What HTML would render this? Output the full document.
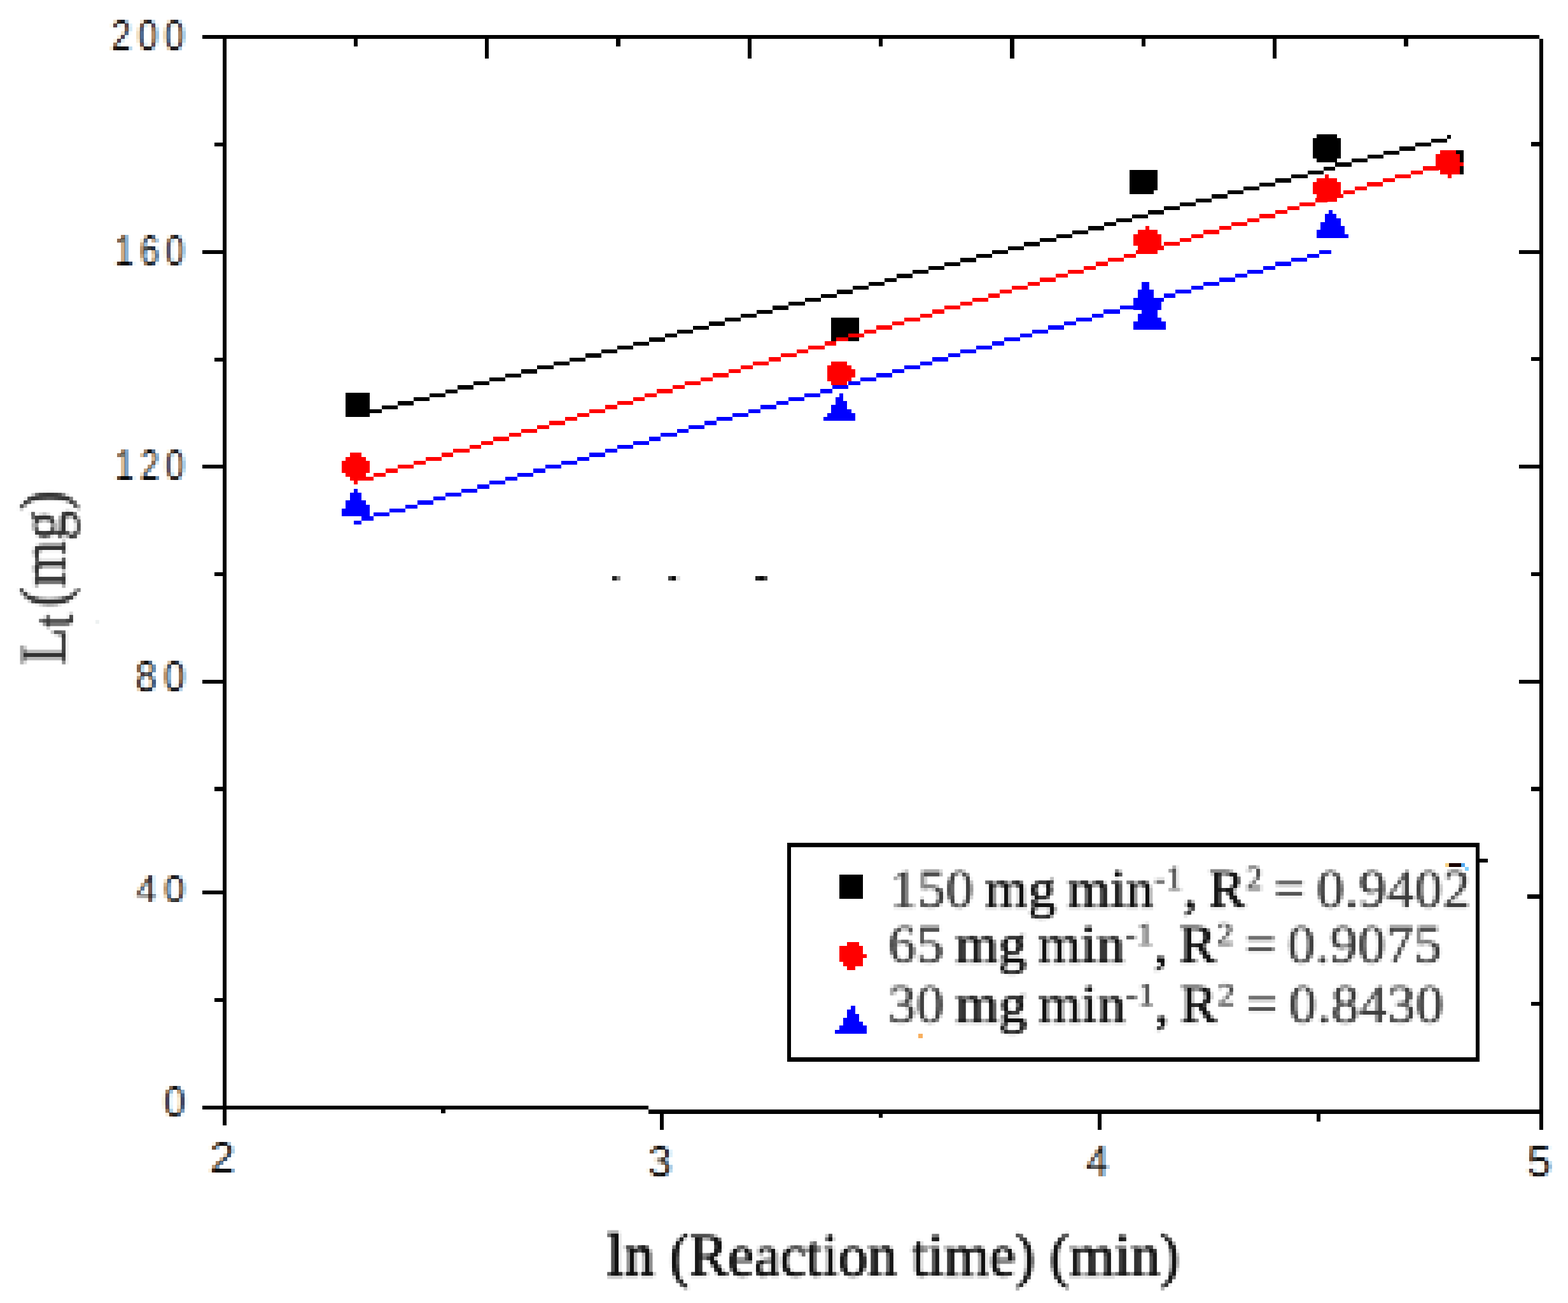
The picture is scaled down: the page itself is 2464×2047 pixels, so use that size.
<!DOCTYPE html>
<html lang="en"><head><meta charset="utf-8"><title>Lt vs ln(reaction time)</title>
<style>
html,body{margin:0;padding:0;background:#ffffff;overflow:hidden}
svg{display:block}
svg rect{shape-rendering:crispEdges}
svg text{white-space:pre}
</style></head>
<body>
<svg width="2464" height="2047" viewBox="0 0 2464 2047">
<defs>
<filter id="px0" filterUnits="userSpaceOnUse" x="166" y="19" width="132" height="72" color-interpolation-filters="sRGB"><feGaussianBlur in="SourceAlpha" stdDeviation="2.2 1.0" result="a"/><feOffset in="a" dx="0.9" result="ar"/><feOffset in="a" dx="-0.9" result="ab"/><feColorMatrix in="ar" type="matrix" values="0 0 0 -1 1  0 0 0 0 0  0 0 0 0 0  0 0 0 0 1" result="r"/><feColorMatrix in="a" type="matrix" values="0 0 0 0 0  0 0 0 -1 1  0 0 0 0 0  0 0 0 0 1" result="g"/><feColorMatrix in="ab" type="matrix" values="0 0 0 0 0  0 0 0 0 0  0 0 0 -1 1  0 0 0 0 1" result="bl"/><feComposite in="r" in2="g" operator="arithmetic" k1="0" k2="1" k3="1" k4="0" result="rg"/><feComposite in="rg" in2="bl" operator="arithmetic" k1="0" k2="1" k3="1" k4="0" result="b"/><feFlood x="168" y="21" width="2" height="2" flood-color="#000"/><feComposite width="6" height="6"/><feTile result="t"/><feComposite in="b" in2="t" operator="in"/><feMorphology operator="dilate" radius="2"/></filter>
<filter id="px1" filterUnits="userSpaceOnUse" x="172" y="357" width="126" height="72" color-interpolation-filters="sRGB"><feGaussianBlur in="SourceAlpha" stdDeviation="2.2 1.0" result="a"/><feOffset in="a" dx="0.9" result="ar"/><feOffset in="a" dx="-0.9" result="ab"/><feColorMatrix in="ar" type="matrix" values="0 0 0 -1 1  0 0 0 0 0  0 0 0 0 0  0 0 0 0 1" result="r"/><feColorMatrix in="a" type="matrix" values="0 0 0 0 0  0 0 0 -1 1  0 0 0 0 0  0 0 0 0 1" result="g"/><feColorMatrix in="ab" type="matrix" values="0 0 0 0 0  0 0 0 0 0  0 0 0 -1 1  0 0 0 0 1" result="bl"/><feComposite in="r" in2="g" operator="arithmetic" k1="0" k2="1" k3="1" k4="0" result="rg"/><feComposite in="rg" in2="bl" operator="arithmetic" k1="0" k2="1" k3="1" k4="0" result="b"/><feFlood x="174" y="359" width="2" height="2" flood-color="#000"/><feComposite width="6" height="6"/><feTile result="t"/><feComposite in="b" in2="t" operator="in"/><feMorphology operator="dilate" radius="2"/></filter>
<filter id="px2" filterUnits="userSpaceOnUse" x="172" y="694" width="126" height="72" color-interpolation-filters="sRGB"><feGaussianBlur in="SourceAlpha" stdDeviation="2.2 1.0" result="a"/><feOffset in="a" dx="0.9" result="ar"/><feOffset in="a" dx="-0.9" result="ab"/><feColorMatrix in="ar" type="matrix" values="0 0 0 -1 1  0 0 0 0 0  0 0 0 0 0  0 0 0 0 1" result="r"/><feColorMatrix in="a" type="matrix" values="0 0 0 0 0  0 0 0 -1 1  0 0 0 0 0  0 0 0 0 1" result="g"/><feColorMatrix in="ab" type="matrix" values="0 0 0 0 0  0 0 0 0 0  0 0 0 -1 1  0 0 0 0 1" result="bl"/><feComposite in="r" in2="g" operator="arithmetic" k1="0" k2="1" k3="1" k4="0" result="rg"/><feComposite in="rg" in2="bl" operator="arithmetic" k1="0" k2="1" k3="1" k4="0" result="b"/><feFlood x="174" y="696" width="2" height="2" flood-color="#000"/><feComposite width="6" height="6"/><feTile result="t"/><feComposite in="b" in2="t" operator="in"/><feMorphology operator="dilate" radius="2"/></filter>
<filter id="px3" filterUnits="userSpaceOnUse" x="203" y="1026" width="96" height="72" color-interpolation-filters="sRGB"><feGaussianBlur in="SourceAlpha" stdDeviation="2.2 1.0" result="a"/><feOffset in="a" dx="0.9" result="ar"/><feOffset in="a" dx="-0.9" result="ab"/><feColorMatrix in="ar" type="matrix" values="0 0 0 -1 1  0 0 0 0 0  0 0 0 0 0  0 0 0 0 1" result="r"/><feColorMatrix in="a" type="matrix" values="0 0 0 0 0  0 0 0 -1 1  0 0 0 0 0  0 0 0 0 1" result="g"/><feColorMatrix in="ab" type="matrix" values="0 0 0 0 0  0 0 0 0 0  0 0 0 -1 1  0 0 0 0 1" result="bl"/><feComposite in="r" in2="g" operator="arithmetic" k1="0" k2="1" k3="1" k4="0" result="rg"/><feComposite in="rg" in2="bl" operator="arithmetic" k1="0" k2="1" k3="1" k4="0" result="b"/><feFlood x="205" y="1028" width="2" height="2" flood-color="#000"/><feComposite width="6" height="6"/><feTile result="t"/><feComposite in="b" in2="t" operator="in"/><feMorphology operator="dilate" radius="2"/></filter>
<filter id="px4" filterUnits="userSpaceOnUse" x="203" y="1363" width="96" height="66" color-interpolation-filters="sRGB"><feGaussianBlur in="SourceAlpha" stdDeviation="2.2 1.0" result="a"/><feOffset in="a" dx="0.9" result="ar"/><feOffset in="a" dx="-0.9" result="ab"/><feColorMatrix in="ar" type="matrix" values="0 0 0 -1 1  0 0 0 0 0  0 0 0 0 0  0 0 0 0 1" result="r"/><feColorMatrix in="a" type="matrix" values="0 0 0 0 0  0 0 0 -1 1  0 0 0 0 0  0 0 0 0 1" result="g"/><feColorMatrix in="ab" type="matrix" values="0 0 0 0 0  0 0 0 0 0  0 0 0 -1 1  0 0 0 0 1" result="bl"/><feComposite in="r" in2="g" operator="arithmetic" k1="0" k2="1" k3="1" k4="0" result="rg"/><feComposite in="rg" in2="bl" operator="arithmetic" k1="0" k2="1" k3="1" k4="0" result="b"/><feFlood x="205" y="1365" width="2" height="2" flood-color="#000"/><feComposite width="6" height="6"/><feTile result="t"/><feComposite in="b" in2="t" operator="in"/><feMorphology operator="dilate" radius="2"/></filter>
<filter id="px5" filterUnits="userSpaceOnUse" x="248" y="1694" width="54" height="72" color-interpolation-filters="sRGB"><feGaussianBlur in="SourceAlpha" stdDeviation="2.2 1.0" result="a"/><feOffset in="a" dx="0.9" result="ar"/><feOffset in="a" dx="-0.9" result="ab"/><feColorMatrix in="ar" type="matrix" values="0 0 0 -1 1  0 0 0 0 0  0 0 0 0 0  0 0 0 0 1" result="r"/><feColorMatrix in="a" type="matrix" values="0 0 0 0 0  0 0 0 -1 1  0 0 0 0 0  0 0 0 0 1" result="g"/><feColorMatrix in="ab" type="matrix" values="0 0 0 0 0  0 0 0 0 0  0 0 0 -1 1  0 0 0 0 1" result="bl"/><feComposite in="r" in2="g" operator="arithmetic" k1="0" k2="1" k3="1" k4="0" result="rg"/><feComposite in="rg" in2="bl" operator="arithmetic" k1="0" k2="1" k3="1" k4="0" result="b"/><feFlood x="250" y="1696" width="2" height="2" flood-color="#000"/><feComposite width="6" height="6"/><feTile result="t"/><feComposite in="b" in2="t" operator="in"/><feMorphology operator="dilate" radius="2"/></filter>
<filter id="px6" filterUnits="userSpaceOnUse" x="321" y="1782" width="54" height="72" color-interpolation-filters="sRGB"><feGaussianBlur in="SourceAlpha" stdDeviation="2.2 1.0" result="a"/><feOffset in="a" dx="0.9" result="ar"/><feOffset in="a" dx="-0.9" result="ab"/><feColorMatrix in="ar" type="matrix" values="0 0 0 -1 1  0 0 0 0 0  0 0 0 0 0  0 0 0 0 1" result="r"/><feColorMatrix in="a" type="matrix" values="0 0 0 0 0  0 0 0 -1 1  0 0 0 0 0  0 0 0 0 1" result="g"/><feColorMatrix in="ab" type="matrix" values="0 0 0 0 0  0 0 0 0 0  0 0 0 -1 1  0 0 0 0 1" result="bl"/><feComposite in="r" in2="g" operator="arithmetic" k1="0" k2="1" k3="1" k4="0" result="rg"/><feComposite in="rg" in2="bl" operator="arithmetic" k1="0" k2="1" k3="1" k4="0" result="b"/><feFlood x="323" y="1784" width="2" height="2" flood-color="#000"/><feComposite width="6" height="6"/><feTile result="t"/><feComposite in="b" in2="t" operator="in"/><feMorphology operator="dilate" radius="2"/></filter>
<filter id="px7" filterUnits="userSpaceOnUse" x="1009" y="1788" width="54" height="72" color-interpolation-filters="sRGB"><feGaussianBlur in="SourceAlpha" stdDeviation="2.2 1.0" result="a"/><feOffset in="a" dx="0.9" result="ar"/><feOffset in="a" dx="-0.9" result="ab"/><feColorMatrix in="ar" type="matrix" values="0 0 0 -1 1  0 0 0 0 0  0 0 0 0 0  0 0 0 0 1" result="r"/><feColorMatrix in="a" type="matrix" values="0 0 0 0 0  0 0 0 -1 1  0 0 0 0 0  0 0 0 0 1" result="g"/><feColorMatrix in="ab" type="matrix" values="0 0 0 0 0  0 0 0 0 0  0 0 0 -1 1  0 0 0 0 1" result="bl"/><feComposite in="r" in2="g" operator="arithmetic" k1="0" k2="1" k3="1" k4="0" result="rg"/><feComposite in="rg" in2="bl" operator="arithmetic" k1="0" k2="1" k3="1" k4="0" result="b"/><feFlood x="1011" y="1790" width="2" height="2" flood-color="#000"/><feComposite width="6" height="6"/><feTile result="t"/><feComposite in="b" in2="t" operator="in"/><feMorphology operator="dilate" radius="2"/></filter>
<filter id="px8" filterUnits="userSpaceOnUse" x="1696" y="1788" width="54" height="72" color-interpolation-filters="sRGB"><feGaussianBlur in="SourceAlpha" stdDeviation="2.2 1.0" result="a"/><feOffset in="a" dx="0.9" result="ar"/><feOffset in="a" dx="-0.9" result="ab"/><feColorMatrix in="ar" type="matrix" values="0 0 0 -1 1  0 0 0 0 0  0 0 0 0 0  0 0 0 0 1" result="r"/><feColorMatrix in="a" type="matrix" values="0 0 0 0 0  0 0 0 -1 1  0 0 0 0 0  0 0 0 0 1" result="g"/><feColorMatrix in="ab" type="matrix" values="0 0 0 0 0  0 0 0 0 0  0 0 0 -1 1  0 0 0 0 1" result="bl"/><feComposite in="r" in2="g" operator="arithmetic" k1="0" k2="1" k3="1" k4="0" result="rg"/><feComposite in="rg" in2="bl" operator="arithmetic" k1="0" k2="1" k3="1" k4="0" result="b"/><feFlood x="1698" y="1790" width="2" height="2" flood-color="#000"/><feComposite width="6" height="6"/><feTile result="t"/><feComposite in="b" in2="t" operator="in"/><feMorphology operator="dilate" radius="2"/></filter>
<filter id="px9" filterUnits="userSpaceOnUse" x="2391" y="1788" width="54" height="72" color-interpolation-filters="sRGB"><feGaussianBlur in="SourceAlpha" stdDeviation="2.2 1.0" result="a"/><feOffset in="a" dx="0.9" result="ar"/><feOffset in="a" dx="-0.9" result="ab"/><feColorMatrix in="ar" type="matrix" values="0 0 0 -1 1  0 0 0 0 0  0 0 0 0 0  0 0 0 0 1" result="r"/><feColorMatrix in="a" type="matrix" values="0 0 0 0 0  0 0 0 -1 1  0 0 0 0 0  0 0 0 0 1" result="g"/><feColorMatrix in="ab" type="matrix" values="0 0 0 0 0  0 0 0 0 0  0 0 0 -1 1  0 0 0 0 1" result="bl"/><feComposite in="r" in2="g" operator="arithmetic" k1="0" k2="1" k3="1" k4="0" result="rg"/><feComposite in="rg" in2="bl" operator="arithmetic" k1="0" k2="1" k3="1" k4="0" result="b"/><feFlood x="2393" y="1790" width="2" height="2" flood-color="#000"/><feComposite width="6" height="6"/><feTile result="t"/><feComposite in="b" in2="t" operator="in"/><feMorphology operator="dilate" radius="2"/></filter>
<filter id="px10" filterUnits="userSpaceOnUse" x="942" y="1920" width="924" height="120" color-interpolation-filters="sRGB"><feGaussianBlur in="SourceGraphic" stdDeviation="1.8" result="b"/><feFlood x="944" y="1922" width="2" height="2" flood-color="#000"/><feComposite width="6" height="6"/><feTile result="t"/><feComposite in="b" in2="t" operator="in"/><feMorphology operator="dilate" radius="2"/></filter>
<filter id="px11" filterUnits="userSpaceOnUse" x="1392" y="1347" width="930" height="108" color-interpolation-filters="sRGB"><feGaussianBlur in="SourceGraphic" stdDeviation="1.8" result="b"/><feFlood x="1394" y="1349" width="2" height="2" flood-color="#000"/><feComposite width="6" height="6"/><feTile result="t"/><feComposite in="b" in2="t" operator="in"/><feMorphology operator="dilate" radius="2"/></filter>
<filter id="px12" filterUnits="userSpaceOnUse" x="1386" y="1434" width="888" height="108" color-interpolation-filters="sRGB"><feGaussianBlur in="SourceGraphic" stdDeviation="1.8" result="b"/><feFlood x="1388" y="1436" width="2" height="2" flood-color="#000"/><feComposite width="6" height="6"/><feTile result="t"/><feComposite in="b" in2="t" operator="in"/><feMorphology operator="dilate" radius="2"/></filter>
<filter id="px13" filterUnits="userSpaceOnUse" x="1386" y="1528" width="894" height="114" color-interpolation-filters="sRGB"><feGaussianBlur in="SourceGraphic" stdDeviation="1.8" result="b"/><feFlood x="1388" y="1530" width="2" height="2" flood-color="#000"/><feComposite width="6" height="6"/><feTile result="t"/><feComposite in="b" in2="t" operator="in"/><feMorphology operator="dilate" radius="2"/></filter>
<filter id="px14" filterUnits="userSpaceOnUse" x="19" y="762" width="120" height="294" color-interpolation-filters="sRGB"><feGaussianBlur in="SourceGraphic" stdDeviation="1.8" result="b"/><feFlood x="21" y="764" width="2" height="2" flood-color="#000"/><feComposite width="6" height="6"/><feTile result="t"/><feComposite in="b" in2="t" operator="in"/><feMorphology operator="dilate" radius="2"/></filter>
</defs>
<rect x="0" y="0" width="2464" height="2047" fill="#ffffff"/>
<rect x="543.40" y="617.40" width="37.70" height="37.70" fill="#000"/>
<rect x="1306.30" y="498.90" width="43.70" height="37.40" fill="#000"/>
<rect x="1775.10" y="267.40" width="43.80" height="31.40" fill="#000"/>
<rect x="1775.10" y="298.80" width="37.50" height="6.30" fill="#000"/>
<rect x="2262.60" y="236.20" width="37.40" height="37.60" fill="#000"/>
<rect x="2069.17" y="211.10" width="31.35" height="6.25" fill="#000"/>
<rect x="2062.90" y="217.35" width="43.89" height="6.25" fill="#000"/>
<rect x="2062.90" y="223.60" width="43.89" height="6.25" fill="#000"/>
<rect x="2062.90" y="229.85" width="43.89" height="6.25" fill="#000"/>
<rect x="2062.90" y="236.10" width="43.89" height="6.25" fill="#000"/>
<rect x="2062.90" y="242.35" width="43.89" height="6.25" fill="#000"/>
<rect x="2069.17" y="248.60" width="31.35" height="6.25" fill="#000"/>
<rect x="581.10" y="642.90" width="18.81" height="6.25" fill="#000"/>
<rect x="599.91" y="636.65" width="25.08" height="6.25" fill="#000"/>
<rect x="624.99" y="630.40" width="25.08" height="6.25" fill="#000"/>
<rect x="650.07" y="624.15" width="25.08" height="6.25" fill="#000"/>
<rect x="675.15" y="617.90" width="25.08" height="6.25" fill="#000"/>
<rect x="700.23" y="611.65" width="18.81" height="6.25" fill="#000"/>
<rect x="719.04" y="605.40" width="25.08" height="6.25" fill="#000"/>
<rect x="744.12" y="599.15" width="25.08" height="6.25" fill="#000"/>
<rect x="769.20" y="592.90" width="25.08" height="6.25" fill="#000"/>
<rect x="794.28" y="586.65" width="25.08" height="6.25" fill="#000"/>
<rect x="819.36" y="580.40" width="25.08" height="6.25" fill="#000"/>
<rect x="844.44" y="574.15" width="25.08" height="6.25" fill="#000"/>
<rect x="869.52" y="567.90" width="25.08" height="6.25" fill="#000"/>
<rect x="894.60" y="561.65" width="25.08" height="6.25" fill="#000"/>
<rect x="919.68" y="555.40" width="25.08" height="6.25" fill="#000"/>
<rect x="944.76" y="549.15" width="25.08" height="6.25" fill="#000"/>
<rect x="969.84" y="542.90" width="25.08" height="6.25" fill="#000"/>
<rect x="994.92" y="536.65" width="25.08" height="6.25" fill="#000"/>
<rect x="1020.00" y="530.40" width="25.08" height="6.25" fill="#000"/>
<rect x="1045.08" y="524.15" width="18.81" height="6.25" fill="#000"/>
<rect x="1063.89" y="517.90" width="25.08" height="6.25" fill="#000"/>
<rect x="1088.97" y="511.65" width="25.08" height="6.25" fill="#000"/>
<rect x="1114.05" y="505.40" width="25.08" height="6.25" fill="#000"/>
<rect x="1139.13" y="499.15" width="25.08" height="6.25" fill="#000"/>
<rect x="1164.21" y="492.90" width="25.08" height="6.25" fill="#000"/>
<rect x="1189.29" y="486.65" width="25.08" height="6.25" fill="#000"/>
<rect x="1214.37" y="480.40" width="25.08" height="6.25" fill="#000"/>
<rect x="1239.45" y="474.15" width="25.08" height="6.25" fill="#000"/>
<rect x="1264.53" y="467.90" width="25.08" height="6.25" fill="#000"/>
<rect x="1289.61" y="461.65" width="25.08" height="6.25" fill="#000"/>
<rect x="1314.69" y="455.40" width="25.08" height="6.25" fill="#000"/>
<rect x="1339.77" y="449.15" width="25.08" height="6.25" fill="#000"/>
<rect x="1364.85" y="442.90" width="25.08" height="6.25" fill="#000"/>
<rect x="1389.93" y="436.65" width="18.81" height="6.25" fill="#000"/>
<rect x="1408.74" y="430.40" width="25.08" height="6.25" fill="#000"/>
<rect x="1433.82" y="424.15" width="25.08" height="6.25" fill="#000"/>
<rect x="1458.90" y="417.90" width="25.08" height="6.25" fill="#000"/>
<rect x="1483.98" y="411.65" width="25.08" height="6.25" fill="#000"/>
<rect x="1509.06" y="405.40" width="25.08" height="6.25" fill="#000"/>
<rect x="1534.14" y="399.15" width="25.08" height="6.25" fill="#000"/>
<rect x="1559.22" y="392.90" width="25.08" height="6.25" fill="#000"/>
<rect x="1584.30" y="386.65" width="25.08" height="6.25" fill="#000"/>
<rect x="1609.38" y="380.40" width="25.08" height="6.25" fill="#000"/>
<rect x="1634.46" y="374.15" width="25.08" height="6.25" fill="#000"/>
<rect x="1659.54" y="367.90" width="25.08" height="6.25" fill="#000"/>
<rect x="1684.62" y="361.65" width="25.08" height="6.25" fill="#000"/>
<rect x="1709.70" y="355.40" width="25.08" height="6.25" fill="#000"/>
<rect x="1734.78" y="349.15" width="18.81" height="6.25" fill="#000"/>
<rect x="1753.59" y="342.90" width="25.08" height="6.25" fill="#000"/>
<rect x="1778.67" y="336.65" width="25.08" height="6.25" fill="#000"/>
<rect x="1803.75" y="330.40" width="25.08" height="6.25" fill="#000"/>
<rect x="1828.83" y="324.15" width="25.08" height="6.25" fill="#000"/>
<rect x="1853.91" y="317.90" width="25.08" height="6.25" fill="#000"/>
<rect x="1878.99" y="311.65" width="25.08" height="6.25" fill="#000"/>
<rect x="1904.07" y="305.40" width="25.08" height="6.25" fill="#000"/>
<rect x="1929.15" y="299.15" width="25.08" height="6.25" fill="#000"/>
<rect x="1954.23" y="292.90" width="25.08" height="6.25" fill="#000"/>
<rect x="1979.31" y="286.65" width="25.08" height="6.25" fill="#000"/>
<rect x="2004.39" y="280.40" width="25.08" height="6.25" fill="#000"/>
<rect x="2029.47" y="274.15" width="25.08" height="6.25" fill="#000"/>
<rect x="2054.55" y="267.90" width="25.08" height="6.25" fill="#000"/>
<rect x="2079.63" y="261.65" width="18.81" height="6.25" fill="#000"/>
<rect x="2098.44" y="255.40" width="25.08" height="6.25" fill="#000"/>
<rect x="2123.52" y="249.15" width="25.08" height="6.25" fill="#000"/>
<rect x="2148.60" y="242.90" width="25.08" height="6.25" fill="#000"/>
<rect x="2173.68" y="236.65" width="25.08" height="6.25" fill="#000"/>
<rect x="2198.76" y="230.40" width="25.08" height="6.25" fill="#000"/>
<rect x="2223.84" y="224.15" width="25.08" height="6.25" fill="#000"/>
<rect x="2248.92" y="217.90" width="25.08" height="6.25" fill="#000"/>
<rect x="2274.00" y="211.65" width="6.27" height="6.25" fill="#000"/>
<rect x="555.70" y="755.15" width="6.27" height="6.25" fill="#ff0000"/>
<rect x="561.97" y="748.90" width="25.08" height="6.25" fill="#ff0000"/>
<rect x="587.05" y="742.65" width="18.81" height="6.25" fill="#ff0000"/>
<rect x="605.86" y="736.40" width="18.81" height="6.25" fill="#ff0000"/>
<rect x="624.67" y="730.15" width="25.08" height="6.25" fill="#ff0000"/>
<rect x="649.75" y="723.90" width="18.81" height="6.25" fill="#ff0000"/>
<rect x="668.56" y="717.65" width="25.08" height="6.25" fill="#ff0000"/>
<rect x="693.64" y="711.40" width="18.81" height="6.25" fill="#ff0000"/>
<rect x="712.45" y="705.15" width="25.08" height="6.25" fill="#ff0000"/>
<rect x="737.53" y="698.90" width="18.81" height="6.25" fill="#ff0000"/>
<rect x="756.34" y="692.65" width="18.81" height="6.25" fill="#ff0000"/>
<rect x="775.15" y="686.40" width="25.08" height="6.25" fill="#ff0000"/>
<rect x="800.23" y="680.15" width="18.81" height="6.25" fill="#ff0000"/>
<rect x="819.04" y="673.90" width="25.08" height="6.25" fill="#ff0000"/>
<rect x="844.12" y="667.65" width="18.81" height="6.25" fill="#ff0000"/>
<rect x="862.93" y="661.40" width="25.08" height="6.25" fill="#ff0000"/>
<rect x="888.01" y="655.15" width="18.81" height="6.25" fill="#ff0000"/>
<rect x="906.82" y="648.90" width="18.81" height="6.25" fill="#ff0000"/>
<rect x="925.63" y="642.65" width="25.08" height="6.25" fill="#ff0000"/>
<rect x="950.71" y="636.40" width="18.81" height="6.25" fill="#ff0000"/>
<rect x="969.52" y="630.15" width="25.08" height="6.25" fill="#ff0000"/>
<rect x="994.60" y="623.90" width="18.81" height="6.25" fill="#ff0000"/>
<rect x="1013.41" y="617.65" width="18.81" height="6.25" fill="#ff0000"/>
<rect x="1032.22" y="611.40" width="25.08" height="6.25" fill="#ff0000"/>
<rect x="1057.30" y="605.15" width="18.81" height="6.25" fill="#ff0000"/>
<rect x="1076.11" y="598.90" width="25.08" height="6.25" fill="#ff0000"/>
<rect x="1101.19" y="592.65" width="18.81" height="6.25" fill="#ff0000"/>
<rect x="1120.00" y="586.40" width="25.08" height="6.25" fill="#ff0000"/>
<rect x="1145.08" y="580.15" width="18.81" height="6.25" fill="#ff0000"/>
<rect x="1163.89" y="573.90" width="18.81" height="6.25" fill="#ff0000"/>
<rect x="1182.70" y="567.65" width="25.08" height="6.25" fill="#ff0000"/>
<rect x="1207.78" y="561.40" width="18.81" height="6.25" fill="#ff0000"/>
<rect x="1226.59" y="555.15" width="25.08" height="6.25" fill="#ff0000"/>
<rect x="1251.67" y="548.90" width="18.81" height="6.25" fill="#ff0000"/>
<rect x="1270.48" y="542.65" width="25.08" height="6.25" fill="#ff0000"/>
<rect x="1295.56" y="536.40" width="18.81" height="6.25" fill="#ff0000"/>
<rect x="1314.37" y="530.15" width="18.81" height="6.25" fill="#ff0000"/>
<rect x="1333.18" y="523.90" width="25.08" height="6.25" fill="#ff0000"/>
<rect x="1358.26" y="517.65" width="18.81" height="6.25" fill="#ff0000"/>
<rect x="1377.07" y="511.40" width="25.08" height="6.25" fill="#ff0000"/>
<rect x="1402.15" y="505.15" width="18.81" height="6.25" fill="#ff0000"/>
<rect x="1420.96" y="498.90" width="25.08" height="6.25" fill="#ff0000"/>
<rect x="1446.04" y="492.65" width="18.81" height="6.25" fill="#ff0000"/>
<rect x="1464.85" y="486.40" width="18.81" height="6.25" fill="#ff0000"/>
<rect x="1483.66" y="480.15" width="25.08" height="6.25" fill="#ff0000"/>
<rect x="1508.74" y="473.90" width="18.81" height="6.25" fill="#ff0000"/>
<rect x="1527.55" y="467.65" width="25.08" height="6.25" fill="#ff0000"/>
<rect x="1552.63" y="461.40" width="18.81" height="6.25" fill="#ff0000"/>
<rect x="1571.44" y="455.15" width="18.81" height="6.25" fill="#ff0000"/>
<rect x="1590.25" y="448.90" width="25.08" height="6.25" fill="#ff0000"/>
<rect x="1615.33" y="442.65" width="18.81" height="6.25" fill="#ff0000"/>
<rect x="1634.14" y="436.40" width="25.08" height="6.25" fill="#ff0000"/>
<rect x="1659.22" y="430.15" width="18.81" height="6.25" fill="#ff0000"/>
<rect x="1678.03" y="423.90" width="25.08" height="6.25" fill="#ff0000"/>
<rect x="1703.11" y="417.65" width="18.81" height="6.25" fill="#ff0000"/>
<rect x="1721.92" y="411.40" width="18.81" height="6.25" fill="#ff0000"/>
<rect x="1740.73" y="405.15" width="25.08" height="6.25" fill="#ff0000"/>
<rect x="1765.81" y="398.90" width="18.81" height="6.25" fill="#ff0000"/>
<rect x="1784.62" y="392.65" width="25.08" height="6.25" fill="#ff0000"/>
<rect x="1809.70" y="386.40" width="18.81" height="6.25" fill="#ff0000"/>
<rect x="1828.51" y="380.15" width="25.08" height="6.25" fill="#ff0000"/>
<rect x="1853.59" y="373.90" width="18.81" height="6.25" fill="#ff0000"/>
<rect x="1872.40" y="367.65" width="18.81" height="6.25" fill="#ff0000"/>
<rect x="1891.21" y="361.40" width="25.08" height="6.25" fill="#ff0000"/>
<rect x="1916.29" y="355.15" width="18.81" height="6.25" fill="#ff0000"/>
<rect x="1935.10" y="348.90" width="25.08" height="6.25" fill="#ff0000"/>
<rect x="1960.18" y="342.65" width="18.81" height="6.25" fill="#ff0000"/>
<rect x="1978.99" y="336.40" width="25.08" height="6.25" fill="#ff0000"/>
<rect x="2004.07" y="330.15" width="18.81" height="6.25" fill="#ff0000"/>
<rect x="2022.88" y="323.90" width="18.81" height="6.25" fill="#ff0000"/>
<rect x="2041.69" y="317.65" width="25.08" height="6.25" fill="#ff0000"/>
<rect x="2066.77" y="311.40" width="18.81" height="6.25" fill="#ff0000"/>
<rect x="2085.58" y="305.15" width="25.08" height="6.25" fill="#ff0000"/>
<rect x="2110.66" y="298.90" width="18.81" height="6.25" fill="#ff0000"/>
<rect x="2129.47" y="292.65" width="18.81" height="6.25" fill="#ff0000"/>
<rect x="2148.28" y="286.40" width="25.08" height="6.25" fill="#ff0000"/>
<rect x="2173.36" y="280.15" width="18.81" height="6.25" fill="#ff0000"/>
<rect x="2192.17" y="273.90" width="25.08" height="6.25" fill="#ff0000"/>
<rect x="2217.25" y="267.65" width="18.81" height="6.25" fill="#ff0000"/>
<rect x="2236.06" y="261.40" width="25.08" height="6.25" fill="#ff0000"/>
<rect x="549.64" y="711.40" width="18.81" height="6.25" fill="#ff0000"/>
<rect x="543.37" y="717.65" width="31.35" height="6.25" fill="#ff0000"/>
<rect x="537.10" y="723.90" width="43.89" height="6.25" fill="#ff0000"/>
<rect x="537.10" y="730.15" width="43.89" height="6.25" fill="#ff0000"/>
<rect x="537.10" y="736.40" width="43.89" height="6.25" fill="#ff0000"/>
<rect x="543.37" y="742.65" width="31.35" height="6.25" fill="#ff0000"/>
<rect x="549.64" y="748.90" width="18.81" height="6.25" fill="#ff0000"/>
<rect x="1306.27" y="567.70" width="25.08" height="6.25" fill="#ff0000"/>
<rect x="1300.00" y="573.95" width="37.62" height="6.25" fill="#ff0000"/>
<rect x="1300.00" y="580.20" width="43.89" height="6.25" fill="#ff0000"/>
<rect x="1300.00" y="586.45" width="43.89" height="6.25" fill="#ff0000"/>
<rect x="1300.00" y="592.70" width="37.62" height="6.25" fill="#ff0000"/>
<rect x="1306.27" y="598.95" width="25.08" height="6.25" fill="#ff0000"/>
<rect x="1800.21" y="355.10" width="6.27" height="6.25" fill="#ff0000"/>
<rect x="1787.67" y="361.35" width="31.35" height="6.25" fill="#ff0000"/>
<rect x="1781.40" y="367.60" width="43.89" height="6.25" fill="#ff0000"/>
<rect x="1781.40" y="373.85" width="43.89" height="6.25" fill="#ff0000"/>
<rect x="1781.40" y="380.10" width="43.89" height="6.25" fill="#ff0000"/>
<rect x="1787.67" y="386.35" width="31.35" height="6.25" fill="#ff0000"/>
<rect x="1787.67" y="392.60" width="31.35" height="6.25" fill="#ff0000"/>
<rect x="2081.71" y="273.70" width="6.27" height="6.25" fill="#ff0000"/>
<rect x="2069.17" y="279.95" width="31.35" height="6.25" fill="#ff0000"/>
<rect x="2062.90" y="286.20" width="43.89" height="6.25" fill="#ff0000"/>
<rect x="2062.90" y="292.45" width="43.89" height="6.25" fill="#ff0000"/>
<rect x="2062.90" y="298.70" width="43.89" height="6.25" fill="#ff0000"/>
<rect x="2069.17" y="304.95" width="31.35" height="6.25" fill="#ff0000"/>
<rect x="2069.17" y="311.20" width="31.35" height="6.25" fill="#ff0000"/>
<rect x="2262.67" y="236.20" width="25.08" height="6.25" fill="#ff0000"/>
<rect x="2256.40" y="242.45" width="37.62" height="6.25" fill="#ff0000"/>
<rect x="2256.40" y="248.70" width="37.62" height="6.25" fill="#ff0000"/>
<rect x="2256.40" y="254.95" width="43.89" height="6.25" fill="#ff0000"/>
<rect x="2256.40" y="261.20" width="37.62" height="6.25" fill="#ff0000"/>
<rect x="2262.67" y="267.45" width="31.35" height="6.25" fill="#ff0000"/>
<rect x="2275.21" y="273.70" width="6.27" height="6.25" fill="#ff0000"/>
<rect x="555.70" y="817.70" width="12.54" height="6.25" fill="#0000ff"/>
<rect x="568.24" y="811.45" width="18.81" height="6.25" fill="#0000ff"/>
<rect x="587.05" y="805.20" width="25.08" height="6.25" fill="#0000ff"/>
<rect x="612.13" y="798.95" width="25.08" height="6.25" fill="#0000ff"/>
<rect x="637.21" y="792.70" width="18.81" height="6.25" fill="#0000ff"/>
<rect x="656.02" y="786.45" width="25.08" height="6.25" fill="#0000ff"/>
<rect x="681.10" y="780.20" width="18.81" height="6.25" fill="#0000ff"/>
<rect x="699.91" y="773.95" width="25.08" height="6.25" fill="#0000ff"/>
<rect x="724.99" y="767.70" width="25.08" height="6.25" fill="#0000ff"/>
<rect x="750.07" y="761.45" width="18.81" height="6.25" fill="#0000ff"/>
<rect x="768.88" y="755.20" width="25.08" height="6.25" fill="#0000ff"/>
<rect x="793.96" y="748.95" width="18.81" height="6.25" fill="#0000ff"/>
<rect x="812.77" y="742.70" width="25.08" height="6.25" fill="#0000ff"/>
<rect x="837.85" y="736.45" width="18.81" height="6.25" fill="#0000ff"/>
<rect x="856.66" y="730.20" width="25.08" height="6.25" fill="#0000ff"/>
<rect x="881.74" y="723.95" width="25.08" height="6.25" fill="#0000ff"/>
<rect x="906.82" y="717.70" width="18.81" height="6.25" fill="#0000ff"/>
<rect x="925.63" y="711.45" width="25.08" height="6.25" fill="#0000ff"/>
<rect x="950.71" y="705.20" width="18.81" height="6.25" fill="#0000ff"/>
<rect x="969.52" y="698.95" width="25.08" height="6.25" fill="#0000ff"/>
<rect x="994.60" y="692.70" width="25.08" height="6.25" fill="#0000ff"/>
<rect x="1019.68" y="686.45" width="18.81" height="6.25" fill="#0000ff"/>
<rect x="1038.49" y="680.20" width="25.08" height="6.25" fill="#0000ff"/>
<rect x="1063.57" y="673.95" width="18.81" height="6.25" fill="#0000ff"/>
<rect x="1082.38" y="667.70" width="25.08" height="6.25" fill="#0000ff"/>
<rect x="1107.46" y="661.45" width="18.81" height="6.25" fill="#0000ff"/>
<rect x="1126.27" y="655.20" width="25.08" height="6.25" fill="#0000ff"/>
<rect x="1151.35" y="648.95" width="25.08" height="6.25" fill="#0000ff"/>
<rect x="1176.43" y="642.70" width="18.81" height="6.25" fill="#0000ff"/>
<rect x="1195.24" y="636.45" width="25.08" height="6.25" fill="#0000ff"/>
<rect x="1220.32" y="630.20" width="18.81" height="6.25" fill="#0000ff"/>
<rect x="1239.13" y="623.95" width="25.08" height="6.25" fill="#0000ff"/>
<rect x="1264.21" y="617.70" width="25.08" height="6.25" fill="#0000ff"/>
<rect x="1289.29" y="611.45" width="18.81" height="6.25" fill="#0000ff"/>
<rect x="1308.10" y="605.20" width="25.08" height="6.25" fill="#0000ff"/>
<rect x="1333.18" y="598.95" width="18.81" height="6.25" fill="#0000ff"/>
<rect x="1351.99" y="592.70" width="25.08" height="6.25" fill="#0000ff"/>
<rect x="1377.07" y="586.45" width="25.08" height="6.25" fill="#0000ff"/>
<rect x="1402.15" y="580.20" width="18.81" height="6.25" fill="#0000ff"/>
<rect x="1420.96" y="573.95" width="25.08" height="6.25" fill="#0000ff"/>
<rect x="1446.04" y="567.70" width="18.81" height="6.25" fill="#0000ff"/>
<rect x="1464.85" y="561.45" width="25.08" height="6.25" fill="#0000ff"/>
<rect x="1489.93" y="555.20" width="18.81" height="6.25" fill="#0000ff"/>
<rect x="1508.74" y="548.95" width="25.08" height="6.25" fill="#0000ff"/>
<rect x="1533.82" y="542.70" width="25.08" height="6.25" fill="#0000ff"/>
<rect x="1558.90" y="536.45" width="18.81" height="6.25" fill="#0000ff"/>
<rect x="1577.71" y="530.20" width="25.08" height="6.25" fill="#0000ff"/>
<rect x="1602.79" y="523.95" width="18.81" height="6.25" fill="#0000ff"/>
<rect x="1621.60" y="517.70" width="25.08" height="6.25" fill="#0000ff"/>
<rect x="1646.68" y="511.45" width="25.08" height="6.25" fill="#0000ff"/>
<rect x="1671.76" y="505.20" width="18.81" height="6.25" fill="#0000ff"/>
<rect x="1690.57" y="498.95" width="25.08" height="6.25" fill="#0000ff"/>
<rect x="1715.65" y="492.70" width="18.81" height="6.25" fill="#0000ff"/>
<rect x="1734.46" y="486.45" width="25.08" height="6.25" fill="#0000ff"/>
<rect x="1759.54" y="480.20" width="25.08" height="6.25" fill="#0000ff"/>
<rect x="1784.62" y="473.95" width="18.81" height="6.25" fill="#0000ff"/>
<rect x="1803.43" y="467.70" width="25.08" height="6.25" fill="#0000ff"/>
<rect x="1828.51" y="461.45" width="18.81" height="6.25" fill="#0000ff"/>
<rect x="1847.32" y="455.20" width="25.08" height="6.25" fill="#0000ff"/>
<rect x="1872.40" y="448.95" width="18.81" height="6.25" fill="#0000ff"/>
<rect x="1891.21" y="442.70" width="25.08" height="6.25" fill="#0000ff"/>
<rect x="1916.29" y="436.45" width="25.08" height="6.25" fill="#0000ff"/>
<rect x="1941.37" y="430.20" width="18.81" height="6.25" fill="#0000ff"/>
<rect x="1960.18" y="423.95" width="25.08" height="6.25" fill="#0000ff"/>
<rect x="1985.26" y="417.70" width="18.81" height="6.25" fill="#0000ff"/>
<rect x="2004.07" y="411.45" width="25.08" height="6.25" fill="#0000ff"/>
<rect x="2029.15" y="405.20" width="25.08" height="6.25" fill="#0000ff"/>
<rect x="2054.23" y="398.95" width="18.81" height="6.25" fill="#0000ff"/>
<rect x="2073.04" y="392.70" width="18.81" height="6.25" fill="#0000ff"/>
<rect x="555.91" y="767.70" width="6.27" height="6.25" fill="#0000ff"/>
<rect x="549.64" y="773.95" width="18.81" height="6.25" fill="#0000ff"/>
<rect x="549.64" y="780.20" width="18.81" height="6.25" fill="#0000ff"/>
<rect x="543.37" y="786.45" width="31.35" height="6.25" fill="#0000ff"/>
<rect x="543.37" y="792.70" width="37.62" height="6.25" fill="#0000ff"/>
<rect x="537.10" y="798.95" width="43.89" height="6.25" fill="#0000ff"/>
<rect x="537.10" y="805.20" width="43.89" height="6.25" fill="#0000ff"/>
<rect x="1318.78" y="617.70" width="6.27" height="6.25" fill="#0000ff"/>
<rect x="1312.51" y="623.95" width="12.54" height="6.25" fill="#0000ff"/>
<rect x="1312.51" y="630.20" width="18.81" height="6.25" fill="#0000ff"/>
<rect x="1306.24" y="636.45" width="25.08" height="6.25" fill="#0000ff"/>
<rect x="1306.24" y="642.70" width="31.35" height="6.25" fill="#0000ff"/>
<rect x="1299.97" y="648.95" width="43.89" height="6.25" fill="#0000ff"/>
<rect x="1293.70" y="655.20" width="50.16" height="6.25" fill="#0000ff"/>
<rect x="1793.94" y="442.90" width="12.54" height="6.25" fill="#0000ff"/>
<rect x="1793.94" y="449.15" width="12.54" height="6.25" fill="#0000ff"/>
<rect x="1787.67" y="455.40" width="25.08" height="6.25" fill="#0000ff"/>
<rect x="1787.67" y="461.65" width="25.08" height="6.25" fill="#0000ff"/>
<rect x="1781.40" y="467.90" width="43.89" height="6.25" fill="#0000ff"/>
<rect x="1781.40" y="474.15" width="43.89" height="6.25" fill="#0000ff"/>
<rect x="1781.40" y="480.40" width="43.89" height="6.25" fill="#0000ff"/>
<rect x="1793.94" y="486.65" width="25.08" height="6.25" fill="#0000ff"/>
<rect x="1787.67" y="492.90" width="31.35" height="6.25" fill="#0000ff"/>
<rect x="1787.67" y="499.15" width="37.62" height="6.25" fill="#0000ff"/>
<rect x="1781.40" y="505.40" width="50.16" height="6.25" fill="#0000ff"/>
<rect x="1781.40" y="511.65" width="50.16" height="6.25" fill="#0000ff"/>
<rect x="2087.91" y="330.00" width="6.27" height="6.25" fill="#0000ff"/>
<rect x="2081.64" y="336.25" width="18.81" height="6.25" fill="#0000ff"/>
<rect x="2081.64" y="342.50" width="25.08" height="6.25" fill="#0000ff"/>
<rect x="2075.37" y="348.75" width="31.35" height="6.25" fill="#0000ff"/>
<rect x="2075.37" y="355.00" width="37.62" height="6.25" fill="#0000ff"/>
<rect x="2069.10" y="361.25" width="43.89" height="6.25" fill="#0000ff"/>
<rect x="2069.10" y="367.50" width="50.16" height="6.25" fill="#0000ff"/>
<rect x="318.30" y="54.90" width="2100.80" height="6.10" fill="#000"/>
<rect x="349.70" y="54.90" width="6.30" height="1712.80" fill="#000"/>
<rect x="318.30" y="1737.10" width="700.30" height="6.30" fill="#000"/>
<rect x="1018.60" y="1743.40" width="1406.80" height="6.20" fill="#000"/>
<rect x="2419.10" y="61.00" width="6.30" height="1713.60" fill="#000"/>
<rect x="318.30" y="392.67" width="31.40" height="6.27" fill="#000"/>
<rect x="318.30" y="730.16" width="31.40" height="6.27" fill="#000"/>
<rect x="318.30" y="1067.87" width="31.40" height="6.27" fill="#000"/>
<rect x="318.30" y="1399.07" width="31.40" height="6.27" fill="#000"/>
<rect x="337.30" y="223.87" width="12.40" height="6.27" fill="#000"/>
<rect x="337.30" y="561.87" width="12.40" height="6.27" fill="#000"/>
<rect x="337.30" y="898.87" width="12.40" height="6.27" fill="#000"/>
<rect x="337.30" y="1236.37" width="12.40" height="6.27" fill="#000"/>
<rect x="337.30" y="1567.87" width="12.40" height="6.27" fill="#000"/>
<rect x="2387.40" y="392.56" width="31.70" height="6.27" fill="#000"/>
<rect x="2387.40" y="729.87" width="31.70" height="6.27" fill="#000"/>
<rect x="2387.40" y="1067.57" width="31.70" height="6.27" fill="#000"/>
<rect x="2400.30" y="1405.27" width="18.80" height="6.27" fill="#000"/>
<rect x="2406.30" y="223.47" width="12.80" height="6.27" fill="#000"/>
<rect x="2406.30" y="561.07" width="12.80" height="6.27" fill="#000"/>
<rect x="2406.30" y="898.76" width="12.80" height="6.27" fill="#000"/>
<rect x="2406.30" y="1236.27" width="12.80" height="6.27" fill="#000"/>
<rect x="2406.30" y="1573.87" width="12.80" height="6.27" fill="#000"/>
<rect x="762.07" y="61.00" width="6.27" height="31.30" fill="#000"/>
<rect x="1174.66" y="61.00" width="6.27" height="31.30" fill="#000"/>
<rect x="1587.37" y="61.00" width="6.27" height="31.30" fill="#000"/>
<rect x="2000.07" y="61.00" width="6.27" height="31.30" fill="#000"/>
<rect x="555.87" y="61.00" width="6.27" height="12.30" fill="#000"/>
<rect x="968.37" y="61.00" width="6.27" height="12.30" fill="#000"/>
<rect x="1381.07" y="61.00" width="6.27" height="12.30" fill="#000"/>
<rect x="1793.87" y="61.00" width="6.27" height="12.30" fill="#000"/>
<rect x="2206.36" y="61.00" width="6.27" height="12.30" fill="#000"/>
<rect x="1037.07" y="1749.40" width="6.27" height="25.20" fill="#000"/>
<rect x="1725.07" y="1749.40" width="6.27" height="25.20" fill="#000"/>
<rect x="693.37" y="1743.10" width="6.27" height="6.30" fill="#000"/>
<rect x="1381.16" y="1749.40" width="6.27" height="6.30" fill="#000"/>
<rect x="2068.86" y="1749.40" width="6.27" height="12.60" fill="#000"/>
<rect x="1237.10" y="1324.30" width="1088.00" height="6.30" fill="#000"/>
<rect x="1237.10" y="1661.40" width="1088.00" height="6.30" fill="#000"/>
<rect x="1237.10" y="1324.30" width="6.30" height="343.40" fill="#000"/>
<rect x="2318.90" y="1324.30" width="6.20" height="343.40" fill="#000"/>
<rect x="2325.10" y="1348.80" width="12.70" height="6.40" fill="#000"/>
<rect x="1318.60" y="1373.70" width="37.70" height="38.00" fill="#000"/>
<rect x="1331.14" y="1480.00" width="18.81" height="6.25" fill="#ff0000"/>
<rect x="1318.60" y="1486.25" width="37.62" height="6.25" fill="#ff0000"/>
<rect x="1318.60" y="1492.50" width="37.62" height="6.25" fill="#ff0000"/>
<rect x="1318.60" y="1498.75" width="43.89" height="6.25" fill="#ff0000"/>
<rect x="1318.60" y="1505.00" width="37.62" height="6.25" fill="#ff0000"/>
<rect x="1324.87" y="1511.25" width="31.35" height="6.25" fill="#ff0000"/>
<rect x="1331.14" y="1517.50" width="12.54" height="6.25" fill="#ff0000"/>
<rect x="1337.38" y="1580.00" width="6.27" height="6.25" fill="#0000ff"/>
<rect x="1331.11" y="1586.25" width="12.54" height="6.25" fill="#0000ff"/>
<rect x="1331.11" y="1592.50" width="18.81" height="6.25" fill="#0000ff"/>
<rect x="1324.84" y="1598.75" width="25.08" height="6.25" fill="#0000ff"/>
<rect x="1324.84" y="1605.00" width="31.35" height="6.25" fill="#0000ff"/>
<rect x="1318.57" y="1611.25" width="43.89" height="6.25" fill="#0000ff"/>
<rect x="1312.30" y="1617.50" width="50.16" height="6.25" fill="#0000ff"/>
<rect x="962.10" y="905.00" width="6.40" height="6.60" fill="#222"/>
<rect x="968.50" y="905.00" width="6.40" height="6.60" fill="#888"/>
<rect x="1049.90" y="905.00" width="6.10" height="6.60" fill="#444"/>
<rect x="1056.00" y="905.00" width="6.30" height="6.60" fill="#000"/>
<rect x="1062.30" y="905.00" width="6.30" height="6.60" fill="#ddd"/>
<rect x="1187.20" y="905.00" width="6.30" height="6.60" fill="#222"/>
<rect x="1193.50" y="905.00" width="6.30" height="6.60" fill="#000"/>
<rect x="1199.80" y="905.00" width="6.30" height="6.60" fill="#444"/>
<rect x="1443.00" y="1624.00" width="6.50" height="6.50" fill="#f8b060"/>
<rect x="149.50" y="974.00" width="6.30" height="6.30" fill="#eef2f2"/>
<rect x="2271.00" y="1355.50" width="6.00" height="6.30" fill="#f8d080"/>
<rect x="2277.00" y="1355.50" width="19.00" height="6.30" fill="#1a0000"/>
<rect x="2296.00" y="1355.50" width="6.00" height="6.30" fill="#50a8f0"/>
<rect x="2302.00" y="1361.80" width="6.00" height="6.20" fill="#80d0ff"/>
<g filter="url(#px0)"><g transform="translate(174.83 79.00) scale(0.8058 0.9796)"><text x="0" y="0" font-family="Liberation Sans, sans-serif" font-size="70" letter-spacing="13" fill="#000">200</text></g></g>
<g filter="url(#px1)"><g transform="translate(180.08 417.00) scale(0.7692 0.9796)"><text x="0" y="0" font-family="Liberation Sans, sans-serif" font-size="70" letter-spacing="13" fill="#000">160</text></g></g>
<g filter="url(#px2)"><g transform="translate(180.59 754.00) scale(0.7657 0.9796)"><text x="0" y="0" font-family="Liberation Sans, sans-serif" font-size="70" letter-spacing="13" fill="#000">120</text></g></g>
<g filter="url(#px3)"><g transform="translate(212.65 1086.00) scale(0.8615 0.9796)"><text x="0" y="0" font-family="Liberation Sans, sans-serif" font-size="70" letter-spacing="13" fill="#000">80</text></g></g>
<g filter="url(#px4)"><g transform="translate(213.53 1417.00) scale(0.8515 0.8571)"><text x="0" y="0" font-family="Liberation Sans, sans-serif" font-size="70" letter-spacing="13" fill="#000">40</text></g></g>
<g filter="url(#px5)"><g transform="translate(257.51 1754.00) scale(0.8763 0.9796)"><text x="0" y="0" font-family="Liberation Sans, sans-serif" font-size="70" letter-spacing="13" fill="#000">0</text></g></g>
<g filter="url(#px6)"><g transform="translate(329.20 1842.00) scale(1.0255 0.9796)"><text x="0" y="0" font-family="Liberation Sans, sans-serif" font-size="70" letter-spacing="13" fill="#000">2</text></g></g>
<g filter="url(#px7)"><g transform="translate(1018.00 1848.00) scale(0.9720 0.9796)"><text x="0" y="0" font-family="Liberation Sans, sans-serif" font-size="70" letter-spacing="13" fill="#000">3</text></g></g>
<g filter="url(#px8)"><g transform="translate(1706.17 1848.00) scale(0.9247 0.9796)"><text x="0" y="0" font-family="Liberation Sans, sans-serif" font-size="70" letter-spacing="13" fill="#000">4</text></g></g>
<g filter="url(#px9)"><g transform="translate(2399.68 1848.00) scale(0.9807 0.9796)"><text x="0" y="0" font-family="Liberation Sans, sans-serif" font-size="70" letter-spacing="13" fill="#000">5</text></g></g>
<g filter="url(#px10)"><g transform="translate(954.70 2003.76) scale(0.9992 1.0271)"><text x="0" y="0" font-family="Liberation Serif, serif" font-size="92" fill="#111" stroke="#111" stroke-width="0.9"><tspan stroke-width="2.4" letter-spacing="1.5">ln</tspan> (Reaction time) (min)</text></g></g>
<g filter="url(#px11)"><g transform="translate(1398.59 1424.89) scale(1.0161 1.0062)"><text x="0" y="0" font-family="Liberation Serif, serif" font-size="85" word-spacing="-5" letter-spacing="0.8"><tspan fill="#3d3d3d" stroke="#3d3d3d" stroke-width="0.3">150</tspan><tspan fill="#111" stroke="#111" stroke-width="0.9"> mg min</tspan><tspan fill="#3d3d3d" stroke="#3d3d3d" stroke-width="0.3" font-size="52" dy="-28">-1</tspan><tspan fill="#111" stroke="#111" stroke-width="0.9" dy="28">, R</tspan><tspan fill="#3d3d3d" stroke="#3d3d3d" stroke-width="0.3" font-size="52" dy="-28">2</tspan><tspan fill="#3d3d3d" stroke="#3d3d3d" stroke-width="0.3" dy="28"> = 0.9402</tspan></text></g></g>
<g filter="url(#px12)"><g transform="translate(1395.93 1512.09) scale(1.0177 0.9951)"><text x="0" y="0" font-family="Liberation Serif, serif" font-size="85" word-spacing="-5" letter-spacing="0.8"><tspan fill="#3d3d3d" stroke="#3d3d3d" stroke-width="0.3">65</tspan><tspan fill="#111" stroke="#111" stroke-width="0.9"> mg min</tspan><tspan fill="#3d3d3d" stroke="#3d3d3d" stroke-width="0.3" font-size="52" dy="-28">-1</tspan><tspan fill="#111" stroke="#111" stroke-width="0.9" dy="28">, R</tspan><tspan fill="#3d3d3d" stroke="#3d3d3d" stroke-width="0.3" font-size="52" dy="-28">2</tspan><tspan fill="#3d3d3d" stroke="#3d3d3d" stroke-width="0.3" dy="28"> = 0.9075</tspan></text></g></g>
<g filter="url(#px13)"><g transform="translate(1395.91 1606.41) scale(1.0213 0.9938)"><text x="0" y="0" font-family="Liberation Serif, serif" font-size="85" word-spacing="-5" letter-spacing="0.8"><tspan fill="#3d3d3d" stroke="#3d3d3d" stroke-width="0.3">30</tspan><tspan fill="#111" stroke="#111" stroke-width="0.9"> mg min</tspan><tspan fill="#3d3d3d" stroke="#3d3d3d" stroke-width="0.3" font-size="52" dy="-28">-1</tspan><tspan fill="#111" stroke="#111" stroke-width="0.9" dy="28">, R</tspan><tspan fill="#3d3d3d" stroke="#3d3d3d" stroke-width="0.3" font-size="52" dy="-28">2</tspan><tspan fill="#3d3d3d" stroke="#3d3d3d" stroke-width="0.3" dy="28"> = 0.8430</tspan></text></g></g>
<g filter="url(#px14)"><g transform="translate(102.97 1044.25) rotate(-90) scale(1.0268 1.1265)"><text x="0" y="0" font-family="Liberation Serif, serif" font-size="92" fill="#333" stroke="#333" stroke-width="0.6">L<tspan font-size="78" dy="9">t</tspan><tspan dy="-9" word-spacing="-13"> (mg)</tspan></text></g></g>
</svg>
</body></html>
